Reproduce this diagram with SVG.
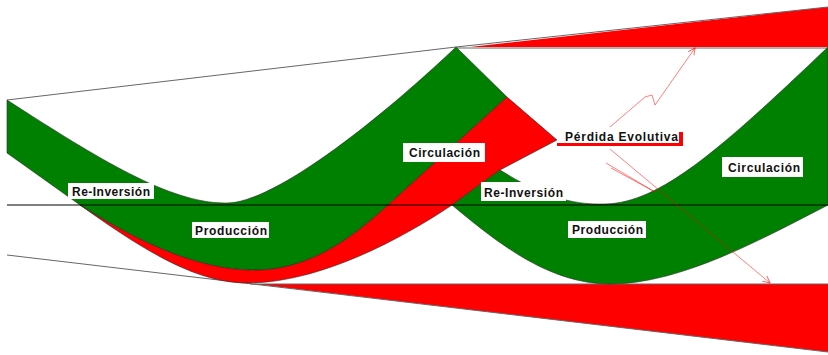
<svg xmlns="http://www.w3.org/2000/svg" width="828" height="355" viewBox="0 0 828 355">
<style>
.g{fill:#008000;stroke:#2a2a2a;stroke-width:0.6}
.r{fill:#ff0000;stroke:#2a2a2a;stroke-width:0.6}
.w{fill:#ff0000;stroke:none}
.guide{fill:none;stroke:#666;stroke-width:1}
.axis{fill:none;stroke:#000;stroke-width:1}
.box{fill:#fff;stroke:none}
.t{font-family:"Liberation Sans",Arial,sans-serif;font-weight:bold;font-size:12px;fill:#111}
.arr{fill:none;stroke:#ff0000;stroke-opacity:0.5;stroke-width:1}
</style>
<defs>
<marker id="ah" markerWidth="8" markerHeight="8" refX="7" refY="4" orient="auto" markerUnits="userSpaceOnUse">
<path d="M0,0.5 L7,4 L0,7.5" fill="none" stroke="#ff0000" stroke-opacity="0.6" stroke-width="1"/>
</marker>
</defs>
<rect width="828" height="355" fill="#fff"/>
<g id="wedges">
<polygon class="w" points="470,47 828,7 828,47"/>
<polygon class="w" points="253,284 828,284 828,352"/>
</g>
<g id="guides">
<line class="guide" x1="7" y1="100" x2="456" y2="47"/>
<line class="guide" x1="456" y1="47" x2="828" y2="7"/>
<line class="guide" x1="456" y1="48" x2="828" y2="48"/>
<line class="guide" x1="7" y1="255" x2="828" y2="352"/>
<line class="guide" x1="250" y1="284" x2="828" y2="284"/>
</g>
<g id="band-left">
<path class="g" d="M7,100 C100,160 170,203 225,203 C275,205 390,110 456,47 L507,97 L388,205 C350,240 310,268 260,270 C210,272 150,250 80,205 L7,153 Z"/>
</g>
<g id="band-loss">
<path class="r" d="M80,205 C150,255 200,284 250,283 C320,282 400,240 452,205 L500,170 L557,140 L507,97 L388,205 C350,240 310,268 260,270 C210,272 150,250 80,205 Z"/>
</g>
<g id="band-right">
<path class="g" d="M452,205 L500,170 C540,195 570,205 605,204 C660,203 720,150 828,47 L828,205 C760,240 680,284 610,284 C550,284 500,245 452,205 Z"/>
</g>
<line id="axis" class="axis" x1="7" y1="205" x2="828" y2="205"/>
<g id="connectors">
<polyline class="arr" points="610,127 645,97 652,95 655,105 695,48" marker-end="url(#ah)"/>
<line class="arr" x1="610" y1="149" x2="770" y2="283" marker-end="url(#ah)"/>
<polyline class="arr" points="606,163 655,192 611,168"/>
</g>
<g id="label-reinversion-1">
<rect class="box" x="68" y="183" width="86" height="16"/>
<text class="t" x="72" y="195.5" textLength="78" lengthAdjust="spacing">Re-Inversión</text>
</g>
<g id="label-produccion-1">
<rect class="box" x="192" y="222" width="77" height="16"/>
<text class="t" x="195" y="234.5" textLength="72" lengthAdjust="spacing">Producción</text>
</g>
<g id="label-circulacion-1">
<rect class="box" x="403" y="143" width="82" height="19"/>
<text class="t" x="409" y="156.5" textLength="71" lengthAdjust="spacing">Circulación</text>
</g>
<g id="label-reinversion-2">
<rect class="box" x="481" y="182" width="85" height="19" stroke="#008000" stroke-width="1"/>
<text class="t" x="484" y="196.5" textLength="79" lengthAdjust="spacing">Re-Inversión</text>
</g>
<g id="label-produccion-2">
<rect class="box" x="568" y="221" width="78" height="17"/>
<text class="t" x="572" y="234" textLength="71" lengthAdjust="spacing">Producción</text>
</g>
<g id="label-circulacion-2">
<rect class="box" x="722" y="157" width="81" height="20"/>
<text class="t" x="728" y="171.5" textLength="72" lengthAdjust="spacing">Circulación</text>
</g>
<g id="label-perdida">
<rect x="557" y="143" width="126" height="3" fill="#ff0000"/>
<rect x="679" y="132" width="4" height="14" fill="#ff0000"/>
<text class="t" x="565" y="141" textLength="113" lengthAdjust="spacing">Pérdida Evolutiva</text>
</g>
</svg>
